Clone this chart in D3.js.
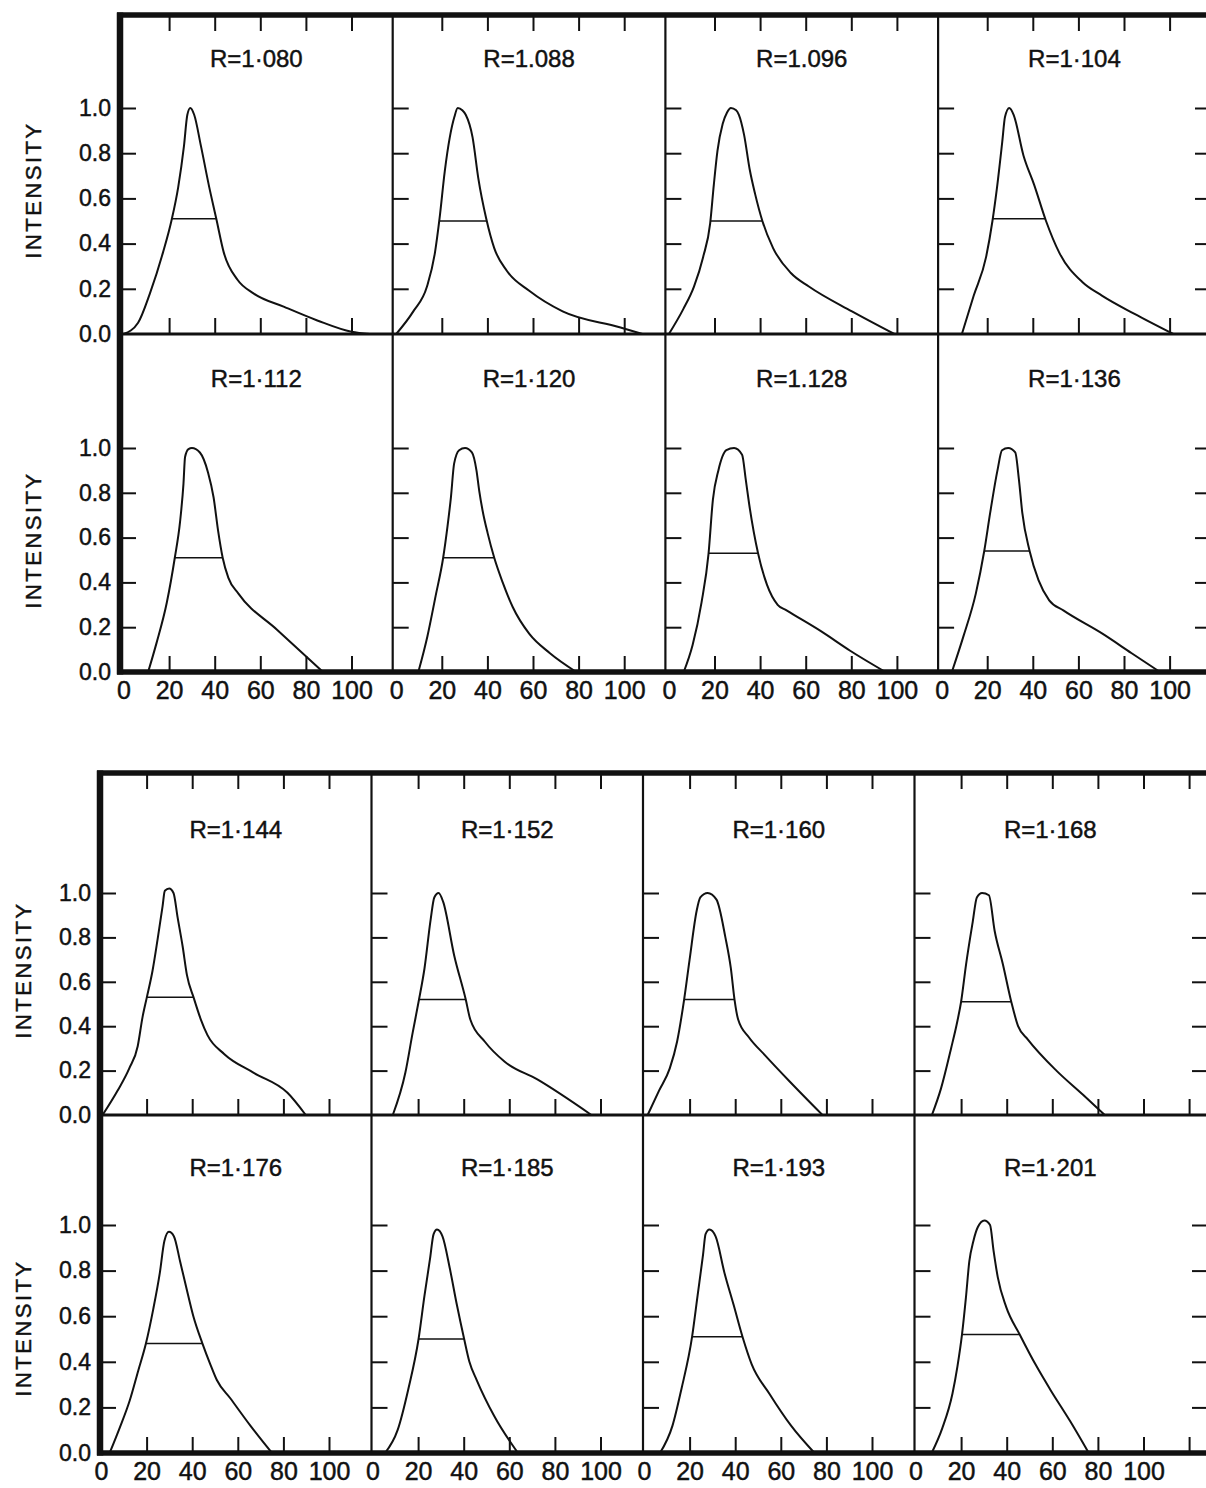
<!DOCTYPE html>
<html>
<head>
<meta charset="utf-8">
<script src="https://cdn.jsdelivr.net/npm/d3@7"></script>
<style>
body { margin: 0; background: #fff; }
svg { display: block; font-family: "Liberation Sans", Arial, sans-serif; }
svg text { stroke: #111; stroke-width: 0.45px; }
</style>
</head>
<body>
<svg width="1206" height="1488"></svg>
<script>
// panel titles, in reading order (upper block then lower block)
var rLabels = ["R=1·080", "R=1.088", "R=1.096", "R=1·104",
               "R=1·112", "R=1·120", "R=1.128", "R=1·136",
               "R=1·144", "R=1·152", "R=1·160", "R=1·168",
               "R=1·176", "R=1·185", "R=1·193", "R=1·201"];

// intensity profiles: [x, intensity]
var c1080 = [[0,0],[6.4,0.05],[11.6,0.18],[17.3,0.36],[21,0.5],[24,0.65],[26.5,0.83],[28,0.97],[29.3,1.0],[31,0.97],[34,0.83],[37.6,0.65],[40.7,0.51],[44,0.36],[50,0.24],[57,0.18],[70.5,0.12],[85,0.06],[100,0.01],[108,0]];
var c1088 = [[0,0],[7.5,0.1],[13.5,0.21],[17,0.36],[19,0.51],[21.3,0.72],[23.5,0.87],[25.5,0.96],[27,1.0],[29,0.99],[30.5,0.97],[33.5,0.87],[36,0.69],[39.5,0.51],[43,0.38],[48.5,0.28],[58.5,0.19],[73,0.10],[98,0.03],[108,0]];
var c1096 = [[0,0],[6.3,0.11],[11,0.21],[15,0.34],[18.1,0.49],[19.7,0.66],[21.3,0.81],[23.6,0.93],[25.5,0.98],[27.2,1.0],[29.5,0.99],[30.7,0.97],[33,0.88],[35.4,0.73],[37.8,0.62],[41,0.5],[45.7,0.38],[53.5,0.27],[61.4,0.21],[80.3,0.10],[98.9,0]];
var c1104 = [[8.9,0],[14.1,0.17],[19.5,0.34],[22.3,0.5],[24.2,0.64],[26.6,0.85],[27.8,0.96],[29.7,1.0],[31.6,0.97],[35.9,0.79],[40.6,0.66],[45.8,0.5],[51.6,0.36],[61.7,0.23],[70.3,0.17],[84.4,0.09],[101.6,0]];
var c1112 = [[10.8,0],[14.5,0.13],[19,0.31],[22.5,0.51],[24.8,0.67],[26.3,0.84],[27,0.96],[28.5,0.995],[30,1.0],[33.5,0.98],[37.1,0.89],[39.5,0.78],[41.5,0.63],[43.5,0.51],[46,0.42],[50.4,0.35],[67.2,0.19],[87.5,0]];
var c1120 = [[9.7,0],[13.7,0.16],[17.3,0.34],[20.6,0.51],[22.5,0.65],[24,0.78],[25.4,0.93],[27.6,0.99],[30.2,1.0],[33.2,0.98],[35.2,0.90],[36.4,0.81],[37.9,0.72],[40.1,0.62],[43,0.51],[46.7,0.40],[51.1,0.29],[58.4,0.17],[67.3,0.085],[79,0]];
var c1128 = [[6.5,0],[10.4,0.12],[14.3,0.31],[17.4,0.53],[19.3,0.77],[21.7,0.90],[25.2,0.99],[28.6,1.0],[32.1,0.97],[33.7,0.86],[35.2,0.75],[39.1,0.53],[43,0.39],[47.7,0.30],[51.6,0.275],[67,0.18],[79.5,0.095],[95,0]];
var c1136 = [[4.5,0],[9.6,0.16],[15,0.35],[18.7,0.54],[21.3,0.71],[24.5,0.90],[26.5,0.99],[29.2,1.0],[32.3,0.98],[33.9,0.86],[35.4,0.71],[38.6,0.54],[42.5,0.41],[47.2,0.32],[53.4,0.275],[70.7,0.17],[83.2,0.085],[95.8,0]];
var c1144 = [[0.7,0],[7.3,0.11],[12.4,0.21],[16.1,0.31],[18.2,0.44],[20.1,0.53],[22.6,0.65],[24.8,0.79],[27,0.94],[28,1.01],[29.9,1.02],[31.8,1.0],[33.6,0.89],[35.8,0.76],[37.7,0.63],[40.6,0.53],[43.8,0.43],[46.7,0.36],[54,0.275],[67,0.19],[81.8,0.1],[89.8,0]];
var c1152 = [[8.9,0],[14.4,0.19],[17.6,0.37],[20.4,0.52],[22.8,0.66],[25.5,0.88],[27.1,0.98],[29,1.0],[31,0.96],[35.8,0.72],[40.9,0.52],[42.9,0.43],[49.3,0.33],[58,0.24],[72.3,0.16],[96,0]];
var c1160 = [[1.6,0],[6.6,0.11],[11.3,0.21],[14.5,0.33],[17.6,0.52],[20,0.70],[23.1,0.92],[24.7,0.98],[27.9,1.0],[31.8,0.97],[35.7,0.80],[38.1,0.66],[39.7,0.52],[41.3,0.43],[46,0.35],[53,0.27],[64,0.15],[78.3,0]];
var c1168 = [[7.2,0],[11.2,0.12],[15.6,0.30],[18.1,0.41],[20,0.51],[22.2,0.68],[25.1,0.87],[26.9,0.98],[29.2,1.0],[32.2,0.99],[34.7,0.83],[38.3,0.68],[42,0.51],[45,0.40],[49.3,0.34],[61.8,0.20],[73.6,0.09],[83,0]];
var c1176 = [[3.8,0],[8.2,0.11],[12.6,0.23],[16.3,0.36],[19.7,0.48],[22.9,0.63],[25.8,0.79],[27.8,0.93],[29.8,0.97],[32,0.95],[34.7,0.84],[37.3,0.73],[40.5,0.6],[44.5,0.48],[47.9,0.39],[50.8,0.32],[56.7,0.24],[65.5,0.12],[75,0]];
var c1185 = [[5.5,0],[11,0.1],[15.7,0.28],[20.2,0.5],[22.8,0.69],[25.2,0.85],[26.8,0.96],[28.3,0.98],[30.7,0.95],[33.9,0.81],[37,0.65],[40.2,0.5],[42.5,0.40],[45.7,0.32],[53.5,0.16],[63.8,0]];
var c1193 = [[7,0],[12.5,0.12],[16.4,0.28],[21.1,0.51],[23.5,0.69],[25.9,0.87],[27,0.96],[28.7,0.98],[31.4,0.95],[35.3,0.79],[39.3,0.65],[43.2,0.51],[47.2,0.39],[55,0.26],[64.5,0.12],[74.8,0]];
var c1201 = [[7.1,0],[11.8,0.11],[16.2,0.26],[18.4,0.38],[20.4,0.52],[22.1,0.68],[23.6,0.84],[25.4,0.93],[27.3,0.99],[30.2,1.02],[32.7,1.0],[34.2,0.89],[36.1,0.77],[39.8,0.64],[45.7,0.52],[53.1,0.38],[59,0.28],[67.8,0.14],[76,0]];

var curves = [c1080, c1088, c1096, c1104, c1112, c1120, c1128, c1136,
              c1144, c1152, c1160, c1168, c1176, c1185, c1193, c1201];

// level of the half-height bar in each panel
var halfLevels = [0.51, 0.5, 0.5, 0.51, 0.51, 0.51, 0.53, 0.54,
                  0.53, 0.52, 0.52, 0.51, 0.48, 0.5, 0.51, 0.52];

var xTicks = [0, 20, 40, 60, 80, 100];
var xTicksWide = [20, 40, 60, 80, 100, 120]; // last panel of lower block runs further
var yTicks = [0, 0.2, 0.4, 0.6, 0.8, 1.0];

var svg = d3.select("svg");
var ink = "#111";

// two plates, each 2 rows x 4 columns
var blocks = [
  {left: 120, top: 15, colW: 272.7, xOff: 3.5, right: 1211, labelX: 33,
   rows: [{top: 15, axis: 334, one: 108, titleY: 67, labelY: 190},
          {top: 334, axis: 672, one: 448, titleY: 387, labelY: 540}]},
  {left: 100, top: 773, colW: 271.5, xOff: 1, right: 1208, labelX: 23,
   rows: [{top: 773, axis: 1115, one: 893, titleY: 838, labelY: 970},
          {top: 1115, axis: 1453, one: 1225, titleY: 1176, labelY: 1328}]}
];

var fmtY = d3.format(".1f");

function halfBar(pts, level) {
  var a = null, b = null, i, t;
  for (i = 1; i < pts.length; i++) {
    if (pts[i - 1][1] < level && pts[i][1] >= level) {
      t = (level - pts[i - 1][1]) / (pts[i][1] - pts[i - 1][1]);
      a = pts[i - 1][0] + t * (pts[i][0] - pts[i - 1][0]);
      break;
    }
  }
  for (i = pts.length - 1; i > 0; i--) {
    if (pts[i][1] < level && pts[i - 1][1] >= level) {
      t = (pts[i - 1][1] - level) / (pts[i - 1][1] - pts[i][1]);
      b = pts[i - 1][0] + t * (pts[i][0] - pts[i - 1][0]);
      break;
    }
  }
  return [a, b];
}

function clean(g) {
  g.select(".domain").remove();
  g.selectAll("line").attr("stroke", ink).attr("stroke-width", 2);
}

blocks.forEach(function(b, bi) {
  var bottom = b.rows[1].axis;

  b.rows.forEach(function(row, ri) {
    var y = d3.scaleLinear().domain([0, 1]).range([row.axis, row.one]);

    for (var c = 0; c < 4; c++) {
      var idx = bi * 8 + ri * 4 + c;
      var colLeft = b.left + c * b.colW;
      var x = d3.scaleLinear().domain([0, 100])
        .range([colLeft + b.xOff, colLeft + b.xOff + 228]);
      var tickSet = (bi === 1 && c === 3) ? xTicksWide : xTicks.slice(1);
      var panel = svg.append("g");

      // y ticks pointing into the panel
      panel.append("g")
        .attr("transform", "translate(" + colLeft + ",0)")
        .call(d3.axisRight(y).tickValues(yTicks.slice(1)).tickSize(16).tickFormat(""))
        .call(clean);

      // last column: ticks on the right frame, pointing inward
      if (c === 3) {
        panel.append("g")
          .attr("transform", "translate(" + b.right + ",0)")
          .call(d3.axisLeft(y).tickValues(yTicks.slice(1)).tickSize(16).tickFormat(""))
          .call(clean);
      }

      // ticks hanging from the top frame
      if (ri === 0) {
        panel.append("g")
          .attr("transform", "translate(0," + b.top + ")")
          .call(d3.axisBottom(x).tickValues(tickSet).tickSize(16).tickFormat(""))
          .call(clean);
      }

      // ticks standing on the row axis
      panel.append("g")
        .attr("transform", "translate(0," + row.axis + ")")
        .call(d3.axisTop(x).tickValues(tickSet).tickSize(16).tickFormat(""))
        .call(clean);

      // x labels under the lower row
      if (ri === 1) {
        var xl = panel.append("g")
          .attr("transform", "translate(0," + row.axis + ")")
          .call(d3.axisBottom(x).tickValues(xTicks).tickSize(0).tickPadding(9).tickFormat(d3.format("d")));
        xl.select(".domain").remove();
        xl.selectAll("text").attr("font-size", 25).attr("font-family", null).attr("fill", ink);
      }

      // y labels on the first column
      if (c === 0) {
        var yl = panel.append("g")
          .attr("transform", "translate(" + b.left + ",0)")
          .call(d3.axisLeft(y).tickValues(yTicks).tickSize(0).tickPadding(9).tickFormat(fmtY));
        yl.select(".domain").remove();
        yl.selectAll("text").attr("font-size", 23).attr("font-family", null).attr("fill", ink);
      }

      // title
      panel.append("text")
        .attr("x", colLeft + b.colW / 2)
        .attr("y", row.titleY)
        .attr("text-anchor", "middle")
        .attr("font-size", 24)
        .attr("fill", ink)
        .text(rLabels[idx]);

      // profile
      var line = d3.line()
        .x(function(d) { return x(d[0]); })
        .y(function(d) { return y(d[1]); })
        .curve(d3.curveMonotoneX);
      panel.append("path")
        .datum(curves[idx])
        .attr("d", line)
        .attr("fill", "none")
        .attr("stroke", ink)
        .attr("stroke-width", 2)
        .attr("stroke-linejoin", "round");

      // half-height bar
      var hb = halfBar(curves[idx], halfLevels[idx]);
      panel.append("line")
        .attr("x1", x(hb[0])).attr("x2", x(hb[1]))
        .attr("y1", y(halfLevels[idx])).attr("y2", y(halfLevels[idx]))
        .attr("stroke", ink)
        .attr("stroke-width", 1.5);
    }

    // axis label
    svg.append("text")
      .attr("transform", "translate(" + b.labelX + "," + row.labelY + ") rotate(-90)")
      .attr("text-anchor", "middle")
      .attr("dy", "0.36em")
      .attr("font-size", 22)
      .attr("letter-spacing", 2.5)
      .attr("fill", ink)
      .text("INTENSITY");
  });

  // frame
  var frame = svg.append("g").attr("stroke", ink).attr("fill", "none");
  for (var c = 1; c < 4; c++) {
    frame.append("line")
      .attr("x1", b.left + c * b.colW).attr("x2", b.left + c * b.colW)
      .attr("y1", b.top).attr("y2", bottom + 2)
      .attr("stroke-width", 2.2);
  }
  frame.append("line")
    .attr("x1", b.right).attr("x2", b.right)
    .attr("y1", b.top).attr("y2", bottom)
    .attr("stroke-width", 2);
  frame.append("line")
    .attr("x1", b.left).attr("x2", 1206)
    .attr("y1", b.rows[0].axis).attr("y2", b.rows[0].axis)
    .attr("stroke-width", 3);
  frame.append("line")
    .attr("x1", b.left - 3).attr("x2", 1206)
    .attr("y1", b.top).attr("y2", b.top)
    .attr("stroke-width", 5.5);
  frame.append("line")
    .attr("x1", b.left - 3).attr("x2", 1206)
    .attr("y1", bottom).attr("y2", bottom)
    .attr("stroke-width", 5.5);
  frame.append("line")
    .attr("x1", b.left).attr("x2", b.left)
    .attr("y1", b.top - 2.5).attr("y2", bottom + 2.5)
    .attr("stroke-width", 6.5);
});
</script>
</body>
</html>
